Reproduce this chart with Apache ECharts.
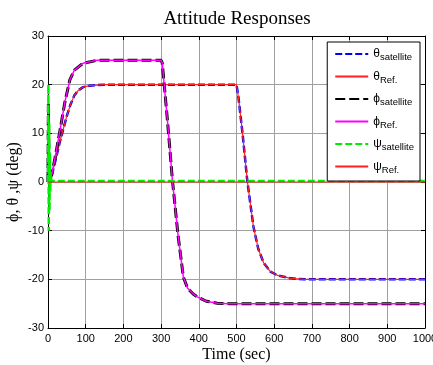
<!DOCTYPE html>
<html>
<head>
<meta charset="utf-8">
<script src="https://cdn.jsdelivr.net/npm/echarts@6/dist/echarts.min.js"></script>
<style>
  html, body { margin: 0; padding: 0; background: #fff; }
  #chart { width: 433px; height: 365px; }
</style>
</head>
<body>
<div id="chart"></div>
<script>
// --- data: [time (sec), angle (deg)] ---
const thetaRef = [[0, 0], [10, 1.5], [20, 4.5], [30, 7.8], [40, 10.7], [50, 13.6], [60, 16], [70, 17.8], [80, 18.8],
  [93, 19.5], [110, 19.8], [150, 20], [500, 20], [505, 17.5], [516, 10], [529, 0], [545, -9.2], [558, -13.8],
  [572, -16.6], [590, -18.4], [609, -19.2], [644, -19.8], [680, -20], [1000, -20]]
const thetaSat = [[0, 0], [1, 11], [3, 0.5], [10, 1.5], [20, 4.5], [30, 7.8], [40, 10.7], [50, 13.6], [60, 16], [70, 17.8],
  [80, 18.8], [93, 19.5], [110, 19.8], [150, 20], [500, 20], [505, 17.5], [516, 10], [529, 0], [545, -9.2],
  [558, -13.8], [572, -16.6], [590, -18.4], [609, -19.2], [644, -19.8], [680, -20], [1000, -20]]
const phiRef = [[0, 0], [10, 1.5], [20, 5.5], [32, 10.7], [45, 16.5], [58, 21], [70, 23], [93, 24.4], [130, 25],
  [300, 25], [303, 24.5], [316, 13.4], [330, 0.4], [345, -11], [359, -19.5], [370, -21.8], [385, -23], [396, -23.6],
  [420, -24.5], [449, -24.9], [480, -25], [1000, -25]]
const phiSat = [[0, 0], [1, 16], [3, 0.5], [10, 1.5], [20, 5.5], [32, 10.7], [45, 16.5], [58, 21], [70, 23], [93, 24.4],
  [130, 25], [300, 25], [303, 24.5], [316, 13.4], [330, 0.4], [345, -11], [359, -19.5], [370, -21.8], [385, -23],
  [396, -23.6], [420, -24.5], [449, -24.9], [480, -25], [1000, -25]]
const psiSat = [[0, 0], [1, 20], [2, -10], [3, 12], [4, -6], [5, 6], [6, -2], [7, 2], [9, 0.2], [1000, 0.2]]
const psiRef = [[0, 0], [1000, 0]]

const xTicks = {min: 0, max: 1000, step: 100}
const yTicks = {min: -30, max: 30, step: 10}

const legendLabels = {
  thetaSat: ['θ', 'satellite'],
  thetaRef: ['θ', 'Ref.'],
  phiSat: ['ϕ', 'satellite'],
  phiRef: ['ϕ', 'Ref.'],
  psiSat: ['ψ', 'satellite'],
  psiRef: ['ψ', 'Ref.']
}

const chart = echarts.init(document.getElementById('chart'))

const sansFont = 'Liberation Sans, Arial, sans-serif'
const serifFont = 'Liberation Serif, Times New Roman, serif'

const lineSeries = (name, data, color, width, dash) => ({
  name: name,
  type: 'line',
  data: data,
  symbol: 'none',
  showSymbol: false,
  animation: false,
  itemStyle: {color: color},
  lineStyle: {color: color, width: width, type: dash || 'solid'}
})

const baseX = {
  type: 'value',
  min: xTicks.min,
  max: xTicks.max,
  interval: xTicks.step,
  axisLine: {show: true, onZero: false, lineStyle: {color: '#000', width: 1}},
  axisTick: {show: true, inside: true, length: 4, lineStyle: {color: '#000'}}
}
const baseY = {
  type: 'value',
  min: yTicks.min,
  max: yTicks.max,
  interval: yTicks.step,
  axisLine: {show: true, onZero: false, lineStyle: {color: '#000', width: 1}},
  axisTick: {show: true, inside: true, length: 4, lineStyle: {color: '#000'}}
}

const option = {
  backgroundColor: '#fff',
  animation: false,
  title: {
    text: 'Attitude Responses',
    left: 232,
    top: 5,
    textAlign: 'center',
    textStyle: {fontFamily: serifFont, fontSize: 19, fontWeight: 'normal', color: '#000'}
  },
  grid: {left: 48, right: 8, top: 36, bottom: 37, outerBoundsMode: 'none', containLabel: false},
  legend: {
    orient: 'vertical',
    right: 13,
    top: 42,
    padding: [6, 6, 6, 7],
    itemGap: 8,
    itemWidth: 33,
    itemHeight: 14,
    backgroundColor: '#fff',
    borderColor: '#000',
    borderWidth: 1,
    borderRadius: 0,
    itemStyle: {opacity: 0},
    data: Object.keys(legendLabels),
    formatter: name => '{g|' + legendLabels[name][0] + '}{s|' + legendLabels[name][1] + '}',
    textStyle: {
      fontFamily: sansFont,
      color: '#000',
      rich: {
        g: {fontSize: 12, fontFamily: sansFont, color: '#000'},
        s: {fontSize: 9.5, fontFamily: sansFont, color: '#000', padding: [7, 0, 0, 0]}
      }
    }
  },
  xAxis: [
    Object.assign({}, baseX, {
      position: 'bottom',
      name: 'Time (sec)',
      nameLocation: 'middle',
      nameGap: 19,
      nameMoveOverlap: false,
      nameTextStyle: {fontFamily: serifFont, fontSize: 16, color: '#000'},
      axisLabel: {fontFamily: sansFont, fontSize: 11, color: '#000', margin: 5, formatter: v => String(v)},
      splitLine: {show: true, lineStyle: {color: '#a0a0a0', width: 1}}
    }),
    Object.assign({}, baseX, {
      position: 'top',
      axisLabel: {show: false},
      splitLine: {show: false}
    })
  ],
  yAxis: [
    Object.assign({}, baseY, {
      position: 'left',
      name: 'ϕ, θ ,ψ (deg)',
      nameLocation: 'middle',
      nameGap: 26,
      nameMoveOverlap: false,
      nameTextStyle: {fontFamily: serifFont, fontSize: 16, color: '#000'},
      axisLabel: {fontFamily: sansFont, fontSize: 11, color: '#000', margin: 4},
      splitLine: {show: true, lineStyle: {color: '#a0a0a0', width: 1}}
    }),
    Object.assign({}, baseY, {
      position: 'right',
      axisLabel: {show: false},
      splitLine: {show: false}
    })
  ],
  series: [
    lineSeries('thetaSat', thetaSat, '#0000ff', 2.5, [7, 3]),
    lineSeries('thetaRef', thetaRef, '#ff2020', 1.2),
    lineSeries('phiSat', phiSat, '#000000', 3, [10, 4]),
    lineSeries('phiRef', phiRef, '#ff00ff', 1.5),
    lineSeries('psiSat', psiSat, '#00ee00', 2.5, [7, 3]),
    lineSeries('psiRef', psiRef, '#ff2020', 1.2)
  ]
}

chart.setOption(option)
</script>
</body>
</html>
